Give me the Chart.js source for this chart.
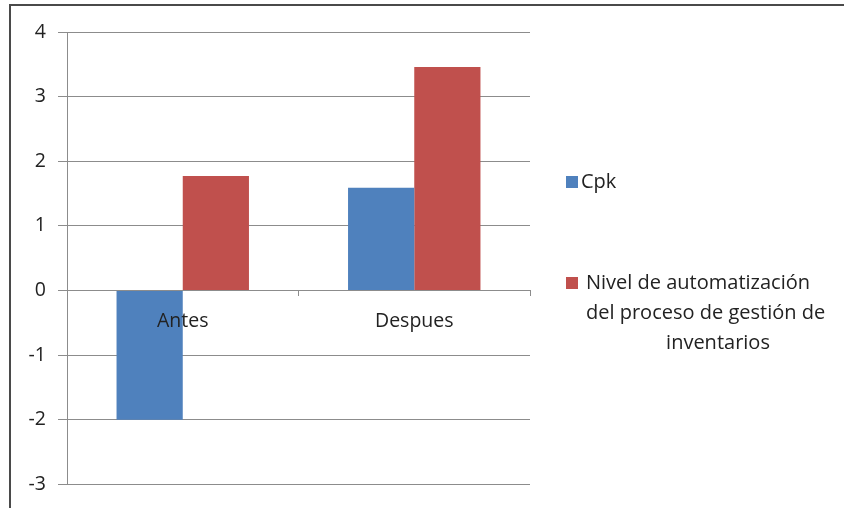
<!DOCTYPE html>
<html>
<head>
<meta charset="utf-8">
<title>Cpk antes y despues</title>
<script src="https://cdn.jsdelivr.net/npm/chart.js@4.4.1/dist/chart.umd.min.js"></script>
<style>
  html, body { margin: 0; padding: 0; background: #fff; }
  #wrap { width: 844px; height: 508px; position: relative; }
</style>
</head>
<body>
<div id="wrap"><canvas id="grafico" width="844" height="508"></canvas></div>
<script>
// Datos del grafico
var categorias = ['Antes', 'Despues'];
var nombresSeries = ['Cpk', 'Nivel de automatización del proceso de gestión de inventarios'];
var valoresCpk = [-2.0, 1.59];
var valoresNivel = [1.77, 3.46];
var coloresSeries = ['#4F81BD', '#C0504D'];
// Texto de la leyenda partido en lineas
var lineasLeyenda = [
    ['Cpk'],
    ['Nivel de automatización', 'del proceso de gestión de', 'inventarios']
];

var fuente = '"Open Sans", Lato, sans-serif';
var tamFuente = 19.5;
var colorTexto = '#222';

// Marco exterior del area del grafico
var marco = {
    id: 'marco',
    beforeDraw: function (chart) {
        var ctx = chart.ctx;
        ctx.save();
        ctx.fillStyle = '#fff';
        ctx.fillRect(0, 0, chart.width, chart.height);
        ctx.strokeStyle = '#4a4a4a';
        ctx.lineWidth = 2;
        ctx.beginPath();
        ctx.moveTo(10, chart.height);
        ctx.lineTo(10, 5);
        ctx.lineTo(chart.width, 5);
        ctx.stroke();
        ctx.restore();
    }
};

// Leyenda dibujada a mano (permite varias lineas por serie)
var leyenda = {
    id: 'leyenda',
    afterDraw: function (chart) {
        var ctx = chart.ctx;
        var posY = [182, 283];
        ctx.save();
        ctx.font = '20px ' + fuente;
        ctx.textBaseline = 'middle';
        chart.data.datasets.forEach(function (ds, i) {
            var y = posY[i];
            ctx.fillStyle = ds.backgroundColor;
            ctx.fillRect(566, y - 6, 12, 12);
            ctx.fillStyle = colorTexto;
            var lineas = lineasLeyenda[i];
            lineas.forEach(function (l, j) {
                // la ultima linea de un texto partido va centrada
                if (lineas.length > 1 && j === lineas.length - 1) {
                    ctx.textAlign = 'center';
                    ctx.fillText(l, 718, y + j * 30);
                } else {
                    ctx.textAlign = 'left';
                    ctx.fillText(l, lineas.length > 1 ? 586 : 581, y + j * 30);
                }
            });
        });
        ctx.restore();
    }
};

var ctx = document.getElementById('grafico').getContext('2d');
var chart = new Chart(ctx, {
    type: 'bar',
    data: {
        labels: categorias,
        datasets: [{
            label: nombresSeries[0],
            data: valoresCpk,
            backgroundColor: coloresSeries[0],
            categoryPercentage: 0.572,
            barPercentage: 1.0
        }, {
            label: nombresSeries[1],
            data: valoresNivel,
            backgroundColor: coloresSeries[1],
            categoryPercentage: 0.572,
            barPercentage: 1.0
        }]
    },
    options: {
        responsive: false,
        maintainAspectRatio: false,
        animation: false,
        layout: {
            padding: { left: 0, top: 32, right: 314, bottom: 22 }
        },
        scales: {
            x: {
                position: { y: 0 },
                grid: {
                    display: true,
                    drawOnChartArea: false,
                    offset: true,
                    color: '#8c8c8c',
                    tickLength: 5
                },
                border: { display: true, color: '#8c8c8c', width: 1 },
                ticks: {
                    z: 1,
                    padding: 14,
                    color: colorTexto,
                    font: { family: fuente, size: tamFuente }
                }
            },
            y: {
                min: -3,
                max: 4,
                afterFit: function (scale) { scale.width = 67; },
                grid: {
                    color: '#8c8c8c',
                    tickLength: 9
                },
                border: { display: true, color: '#8c8c8c', width: 1 },
                ticks: {
                    stepSize: 1,
                    padding: 12,
                    color: colorTexto,
                    font: { family: fuente, size: tamFuente }
                }
            }
        },
        plugins: {
            legend: { display: false },
            tooltip: { enabled: false }
        }
    },
    plugins: [marco, leyenda]
});
</script>
</body>
</html>
